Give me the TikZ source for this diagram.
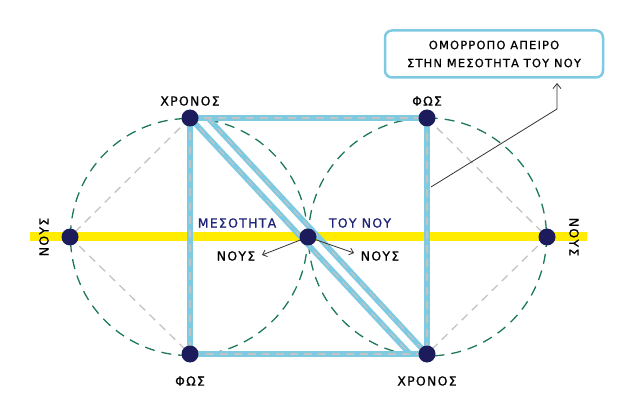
\documentclass[tikz,border=0pt]{standalone}
\usepackage{fontspec}
\setmainfont{DejaVu Sans}
\newfontfamily\lblfont[LetterSpace=10,FakeBold=0.8]{DejaVu Sans}
\usetikzlibrary{arrows.meta}
\definecolor{navy}{RGB}{28,28,92}
\definecolor{lblue}{RGB}{125,202,226}
\definecolor{ylw}{RGB}{255,236,0}
\definecolor{dgreen}{RGB}{30,120,90}
\definecolor{lgrey}{RGB}{195,195,195}
\definecolor{txtnavy}{RGB}{30,35,120}
\tikzset{
  dot/.style={circle,fill=navy,inner sep=0pt,minimum size=17pt},
  lbl/.style={font=\lblfont\fontsize{12.5}{14}\selectfont,text=black},
  bluelbl/.style={font=\lblfont\fontsize{12.5}{14}\selectfont,text=txtnavy},
  edge/.style={draw=lblue,line width=5.5pt},
  gdash/.style={draw=lgrey,line width=1.3pt,dash pattern=on 8pt off 6pt},
  cdash/.style={draw=dgreen,line width=1.3pt,dash pattern=on 10pt off 7pt},
  ptr/.style={draw=black!80,line width=0.8pt}
}
\begin{document}
\begin{tikzpicture}[x=1pt,y=-1pt]
\useasboundingbox (0,0) rectangle (640,406);
% coordinates
\coordinate (TL) at (190,118);
\coordinate (TR) at (427,118);
\coordinate (BL) at (190,354);
\coordinate (BR) at (427,354);
\coordinate (L) at (70,237);
\coordinate (R) at (547,237);
\coordinate (C) at (308,237);
\coordinate (YL) at (30,237);
\coordinate (YR) at (587,237);
\coordinate (DA) at (410,354);
\coordinate (DB) at (208,118);
% yellow axis
\draw[ylw,line width=9pt] (YL) -- (YR);
% dashed circles
\draw[cdash] (189,237) circle (118.5);
\draw[cdash] (427.5,237) circle (119);
% grey diamonds
\draw[gdash] (TL) -- (L) -- (BL);
\draw[gdash] (TR) -- (R) -- (BR);
% square and diagonal band
\draw[edge] (TL) -- (TR) -- (BR) -- (BL) -- cycle;
\draw[edge] (TL) -- (DA);
\draw[edge] (DB) -- (BR);
\draw[gdash] (TL) -- (TR) -- (BR) -- (BL) -- cycle;
\draw[gdash] (TL) -- (DA);
\draw[gdash] (DB) -- (BR);
% pointer box
\node[draw=lblue,line width=2.5pt,rounded corners=7pt,minimum width=218pt,minimum height=47pt,align=center,font=\lblfont\fontsize{11.5}{18}\selectfont] (box) at (494,54) {ΟΜΟΡΡΟΠΟ ΑΠΕΙΡΟ\\ΣΤΗΝ ΜΕΣΟΤΗΤΑ ΤΟΥ ΝΟΥ};
\coordinate (P0) at (431,187);
\coordinate (P1) at (557,109);
\coordinate (P2) at (557,83);
\draw[ptr,-{Straight Barb[length=5pt,width=8pt]}] (P0) -- (P1) -- (P2);
% center arrows
\coordinate (AL) at (262,255);
\coordinate (AR) at (354,253);
\draw[ptr,-{Straight Barb[length=4pt,width=7pt]}] (C) -- (AL);
\draw[ptr,-{Straight Barb[length=4pt,width=7pt]}] (C) -- (AR);
% dots
\node[dot] (nTL) at (TL) {};
\node[dot] (nTR) at (TR) {};
\node[dot] (nBL) at (BL) {};
\node[dot] (nBR) at (BR) {};
\node[dot] (nL) at (L) {};
\node[dot] (nR) at (R) {};
\node[dot] (nC) at (C) {};
% labels
\node[lbl] (t1) at (190,101) {ΧΡΟΝΟΣ};
\node[lbl] (t2) at (427,101) {ΦΩΣ};
\node[lbl] (t3) at (190,381) {ΦΩΣ};
\node[lbl] (t4) at (427,381) {ΧΡΟΝΟΣ};
\node[lbl,rotate=90] (t5) at (44,237) {ΝΟΥΣ};
\node[lbl,rotate=-90] (t6) at (574,237) {ΝΟΥΣ};
\node[bluelbl] (t7) at (237,223) {ΜΕΣΟΤΗΤΑ};
\node[bluelbl] (t8) at (360,223) {ΤΟΥ ΝΟΥ};
\node[lbl] (t9) at (236,256) {ΝΟΥΣ};
\node[lbl] (t10) at (380,256) {ΝΟΥΣ};
\end{tikzpicture}
\end{document}
